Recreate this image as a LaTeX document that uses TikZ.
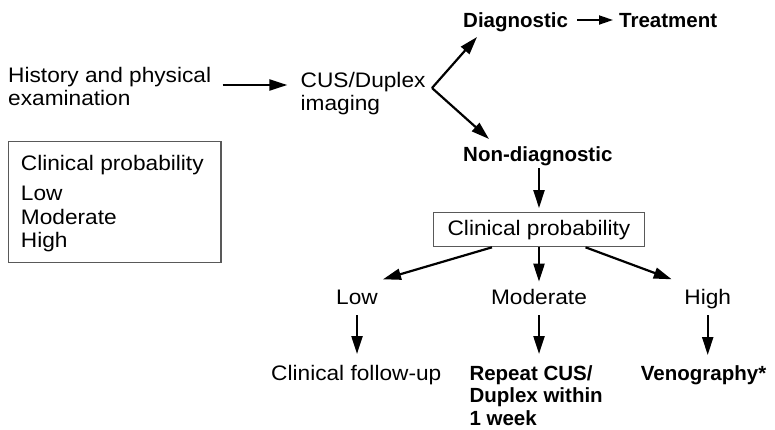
\documentclass[tikz,border=0pt]{standalone}
\usepackage{fontspec}
\setmainfont{Liberation Sans}[FakeStretch=1.08]
\newfontfamily\boldf{Liberation Sans Bold}[FakeStretch=1.0]
\usetikzlibrary{arrows.meta,calc}
\begin{document}
\begin{tikzpicture}[x=1pt,y=-1pt,
  txt/.style={inner sep=0pt, font=\fontsize{21}{23}\selectfont, align=left},
  btxt/.style={inner sep=0pt, font=\fontsize{20.5}{22.5}\selectfont\boldf, align=left},
  arr/.style={line width=2.2pt, -{Triangle[length=18pt,width=11pt]}},
  sarr/.style={line width=1.8pt, -{Triangle[length=14pt,width=9pt]}},
  gbox/.style={draw=black!65, line width=1.2pt}]
\useasboundingbox (0,0) rectangle (775,429);

% texts (multi-line nodes: base = baseline of last line)
\node[txt, anchor=base west] (hist) at (8,105) {History and physical\\examination};
\node[txt, anchor=base west] (cus) at (300.5,110) {CUS/Duplex\\imaging};
\node[btxt, anchor=base west] (diag) at (463,27.5) {Diagnostic};
\node[btxt, anchor=base west] (treat) at (619,27.5) {Treatment};
\node[btxt, anchor=base west] (nond) at (463,161) {Non-diagnostic};
\node[txt, gbox, minimum width=211pt, minimum height=34pt] (cp) at (539,229.7) {Clinical probability};
\node[txt, anchor=base] (low) at (357,304) {Low};
\node[txt, anchor=base] (mod) at (539,304) {Moderate};
\node[txt, anchor=base] (high) at (707.7,304) {High};
\node[txt, anchor=base west] (fol) at (271,380) {Clinical follow-up};
\node[btxt, anchor=base west] (rep) at (469.3,425) {Repeat CUS/\\Duplex within\\1 week};
\node[btxt, anchor=base west] (ven) at (640.7,380) {Venography*};

% legend box
\draw[gbox] (8.3,141.7) rectangle (221,262.7);
\node[txt, anchor=base west] (lg1) at (20.7,170) {Clinical probability};
\node[txt, anchor=base west] (lg2) at (20.7,200.7) {Low};
\node[txt, anchor=base west] (lg3) at (20.7,224) {Moderate};
\node[txt, anchor=base west] (lg4) at (20.7,247.5) {High};

% junction
\coordinate (v) at (432,88);

% connectors
\draw[arr] (222.7,85) coordinate (h0) -- (287.3,85) coordinate (h1);
\draw[arr] (v) -- (477,37) coordinate (d1);
\draw[arr] (v) -- (489,139) coordinate (n1);
\draw[sarr] (577,20) coordinate (t0) -- (613,20) coordinate (t1);
\draw[arr] (cp.north |- 0,168) coordinate (c0) -- ([yshift=4pt]cp.north);
\draw[arr] ($(cp.south)+(-47,0)$) -- (383,279.3) coordinate (l1);
\draw[arr] (cp.south) -- (cp.south |- 0,281.7) coordinate (m1);
\draw[arr] ($(cp.south)+(46.5,0)$) -- (671.7,279.3) coordinate (r1);
\draw[arr] (low.south |- 0,315) coordinate (l2) -- (low.south |- 0,354) coordinate (l3);
\draw[arr] (mod.south |- 0,315) coordinate (m2) -- (mod.south |- 0,354) coordinate (m3);
\draw[arr] (high.south |- 0,315) coordinate (r2) -- (high.south |- 0,355) coordinate (r3);
\end{tikzpicture}
\end{document}
